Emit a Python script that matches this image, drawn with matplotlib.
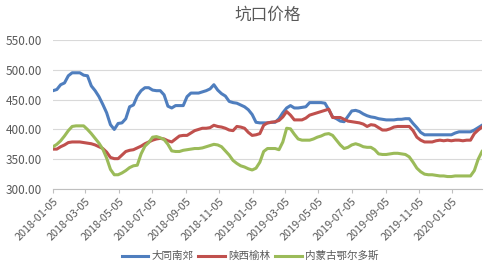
import numpy as np
import pandas as pd
import matplotlib
matplotlib.use("Agg")
import matplotlib.pyplot as plt

plt.rcParams['font.family'] = ['Noto Sans CJK SC', 'DejaVu Sans']

# weekly prices, 2018-01-05 .. 2020-02-28
dates = pd.date_range('2018-01-05', periods=113, freq='7D')

datong = [465, 467, 475, 478, 490, 495, 495, 495, 491, 490,
          473, 465, 455, 442, 428, 408, 400, 410, 411, 418,
          438, 441, 456, 465, 470, 470, 466, 465, 465, 458,
          439, 436, 440, 440, 440, 455, 461, 461, 461, 463,
          465, 468, 475, 466, 460, 456, 447, 445, 444, 441,
          438, 433, 425, 412, 411, 411, 411, 412, 412, 418,
          428, 436, 440, 436, 436, 437, 438, 445, 445, 445,
          445, 444, 433, 421, 418, 414, 413, 422, 431, 432,
          430, 426, 423, 421, 420, 418, 417, 416, 416, 416,
          417, 417, 418, 418, 410, 403, 395, 391, 391, 391,
          391, 391, 391, 391, 391, 394, 396, 396, 396, 396,
          399, 403, 407]

yulin = [367, 367, 371, 374, 378, 379, 379, 379, 378, 377,
         376, 374, 371, 368, 362, 353, 351, 351, 357, 363,
         365, 366, 369, 372, 376, 379, 382, 384, 385, 384,
         381, 379, 384, 389, 390, 390, 394, 398, 400, 402,
         402, 403, 407, 405, 404, 402, 399, 398, 405, 404,
         402, 395, 390, 391, 393, 407, 411, 412, 413, 415,
         421, 430, 424, 416, 416, 416, 419, 424, 426, 428,
         430, 432, 434, 420, 420, 420, 417, 414, 413, 412,
         411, 409, 405, 408, 407, 403, 399, 399, 401, 404,
         405, 405, 405, 405, 398, 387, 382, 379, 379, 379,
         381, 382, 381, 382, 381, 382, 382, 381, 382, 382,
         393, 399, 404]

ordos = [371, 375, 381, 389, 398, 405, 406, 406, 406, 400,
         393, 385, 377, 367, 352, 333, 324, 324, 327, 331,
         336, 339, 340, 359, 372, 378, 387, 388, 386, 383,
         375, 364, 363, 363, 365, 366, 367, 368, 368, 369,
         371, 373, 375, 374, 371, 364, 357, 348, 343, 339,
         337, 334, 332, 335, 345, 363, 368, 368, 368, 366,
         379, 402, 401, 392, 384, 382, 382, 382, 384, 387,
         389, 392, 393, 390, 382, 374, 368, 370, 374, 376,
         374, 371, 370, 370, 366, 359, 358, 358, 359, 360,
         360, 359, 358, 354, 345, 335, 329, 325, 324, 324,
         323, 322, 322, 321, 321, 322, 322, 322, 322, 322,
         331, 350, 363]

names = ['大同南郊', '陕西榆林', '内蒙古鄂尔多斯']
colors = ['#4F7EBE', '#C0504D', '#9BBB59']
tick_labels = ['2018-01-05', '2018-03-05', '2018-05-05', '2018-07-05', '2018-09-05',
               '2018-11-05', '2019-01-05', '2019-03-05', '2019-05-05', '2019-07-05',
               '2019-09-05', '2019-11-05', '2020-01-05']
tick_dates = pd.to_datetime(tick_labels)

fig = plt.figure(figsize=(5, 2.74), dpi=100)
ax = fig.add_axes([0.106, 0.31, 0.858, 0.544])

for vals, name, c in zip([datong, yulin, ordos], names, colors):
    ax.plot(dates, vals, color=c, lw=2.2, label=name, solid_joinstyle='round')

ax.set_ylim(300, 550)
ax.set_yticks(np.arange(300, 551, 50))
ax.set_yticklabels(['%.2f' % v for v in np.arange(300, 551, 50)])
ax.set_xlim(dates[0], dates[-1])
ax.set_xticks(tick_dates)
ax.set_xticklabels(tick_labels, rotation=45, ha='right', rotation_mode='anchor')

ax.grid(axis='y', color='#D9D9D9', lw=0.8)
ax.set_axisbelow(True)
for s in ['top', 'right', 'left']:
    ax.spines[s].set_visible(False)
ax.spines['bottom'].set_color('#BFBFBF')
ax.tick_params(axis='y', length=0, labelsize=8.5, colors='#595959', pad=8)
ax.tick_params(axis='x', length=3, color='#BFBFBF', labelsize=7.8, colors='#595959', pad=2)

ax.set_title('坑口价格', fontsize=12, color='#595959', y=1.08)
ax.legend(loc='center', bbox_to_anchor=(0.5, 0.065), bbox_transform=fig.transFigure,
          ncol=3, frameon=False, fontsize=7.6, handlelength=2.5, columnspacing=0.5,
          handletextpad=0.3, labelcolor='#595959', borderaxespad=0)

fig.savefig('out.png', dpi=100)
